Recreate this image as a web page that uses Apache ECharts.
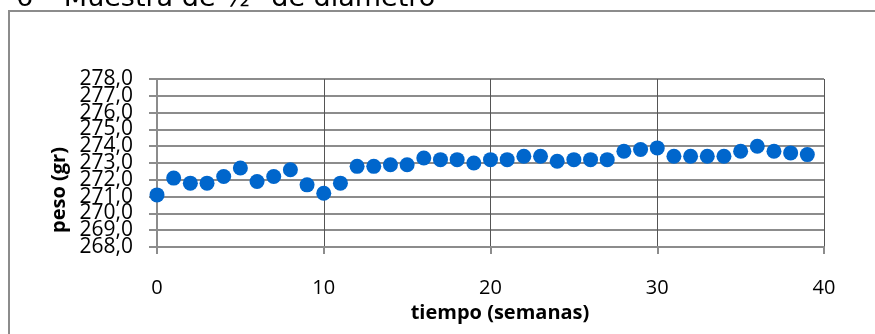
<!DOCTYPE html>
<html>
<head>
<meta charset="utf-8">
<script src="https://cdn.jsdelivr.net/npm/echarts@6/dist/echarts.min.js"></script>
<style>
  html, body { margin: 0; padding: 0; background: #fff; }
  #chart { width: 875px; height: 334px; }
</style>
</head>
<body>
<div id="chart"></div>
<script>
// Weekly weight readings of the sample
const weeks = [0, 1, 2, 3, 4, 5, 6, 7, 8, 9, 10, 11, 12, 13, 14, 15, 16, 17, 18, 19,
               20, 21, 22, 23, 24, 25, 26, 27, 28, 29, 30, 31, 32, 33, 34, 35, 36, 37, 38, 39];
const weights = [271.1, 272.1, 271.8, 271.8, 272.2, 272.7, 271.9, 272.2, 272.6, 271.7,
                 271.2, 271.8, 272.8, 272.8, 272.9, 272.9, 273.3, 273.2, 273.2, 273.0,
                 273.2, 273.2, 273.4, 273.4, 273.1, 273.2, 273.2, 273.2, 273.7, 273.8,
                 273.9, 273.4, 273.4, 273.4, 273.4, 273.7, 274.0, 273.7, 273.6, 273.5];
const xTicks = [0, 10, 20, 30, 40];
const yTicks = [268, 269, 270, 271, 272, 273, 274, 275, 276, 277, 278];

const chartTitle = '6 \u2013 Muestra de \u00bd" de di\u00e1metro';
const xTitle = 'tiempo (semanas)';
const yTitle = 'peso (gr)';

const points = weeks.map((w, i) => [w, weights[i]]);
const yTickText = yTicks.map(v => v.toFixed(1).replace('.', ','));
const font = '"Open Sans", "Liberation Sans", sans-serif';

const chart = echarts.init(document.getElementById('chart'), null, { renderer: 'canvas' });
chart.setOption({
  animation: false,
  backgroundColor: '#ffffff',
  grid: { left: 157, right: 51, top: 79, bottom: 87, containLabel: false },
  xAxis: {
    type: 'value',
    min: xTicks[0],
    max: xTicks[xTicks.length - 1],
    interval: xTicks[1] - xTicks[0],
    axisLine: { show: true, lineStyle: { color: '#8c8c8c', width: 2 } },
    axisTick: { show: true, length: 7, lineStyle: { color: '#8c8c8c', width: 2 } },
    axisLabel: { fontSize: 20, color: '#000', fontFamily: font, margin: 31, showMinLabel: true, showMaxLabel: true },
    splitLine: { show: true, lineStyle: { color: '#555555', width: 1 } }
  },
  yAxis: [
    {
      // value scale for the points, grid lines and ticks
      type: 'value',
      min: yTicks[0],
      max: yTicks[yTicks.length - 1],
      interval: yTicks[1] - yTicks[0],
      axisLine: { show: true, lineStyle: { color: '#8c8c8c', width: 2 } },
      axisTick: { show: true, length: 8, lineStyle: { color: '#8c8c8c', width: 2 } },
      axisLabel: { show: false },
      splitLine: { show: true, lineStyle: { color: '#8c8c8c', width: 2 } }
    },
    {
      // the densely packed tick texts (every one shown, even where they touch)
      type: 'category',
      data: yTickText,
      boundaryGap: false,
      position: 'left',
      axisLine: { show: false },
      axisTick: { show: false },
      splitLine: { show: false },
      axisLabel: { interval: 0, fontSize: 21, color: '#000', fontFamily: font, margin: 24 }
    }
  ],
  series: [{
    type: 'scatter',
    yAxisIndex: 0,
    data: points,
    symbol: 'circle',
    symbolSize: 15,
    itemStyle: { color: '#0066cc', opacity: 1 }
  }],
  graphic: [
    {
      type: 'rect', silent: true,
      shape: { x: 9, y: 11, width: 900, height: 400 },
      style: { fill: 'none', stroke: '#8c8c8c', lineWidth: 2 }
    },
    {
      type: 'text', silent: true, x: 16, y: 12,
      style: { text: chartTitle, font: '27px "DejaVu Sans", sans-serif', fill: '#000', verticalAlign: 'bottom' }
    },
    {
      type: 'text', silent: true, x: 500, y: 313,
      style: { text: xTitle, font: 'bold 20px ' + font, fill: '#000', align: 'center', verticalAlign: 'middle' }
    },
    {
      type: 'text', silent: true, x: 59, y: 190, rotation: Math.PI / 2,
      style: { text: yTitle, font: 'bold 20px ' + font, fill: '#000', align: 'center', verticalAlign: 'middle' }
    }
  ]
});
</script>
</body>
</html>
